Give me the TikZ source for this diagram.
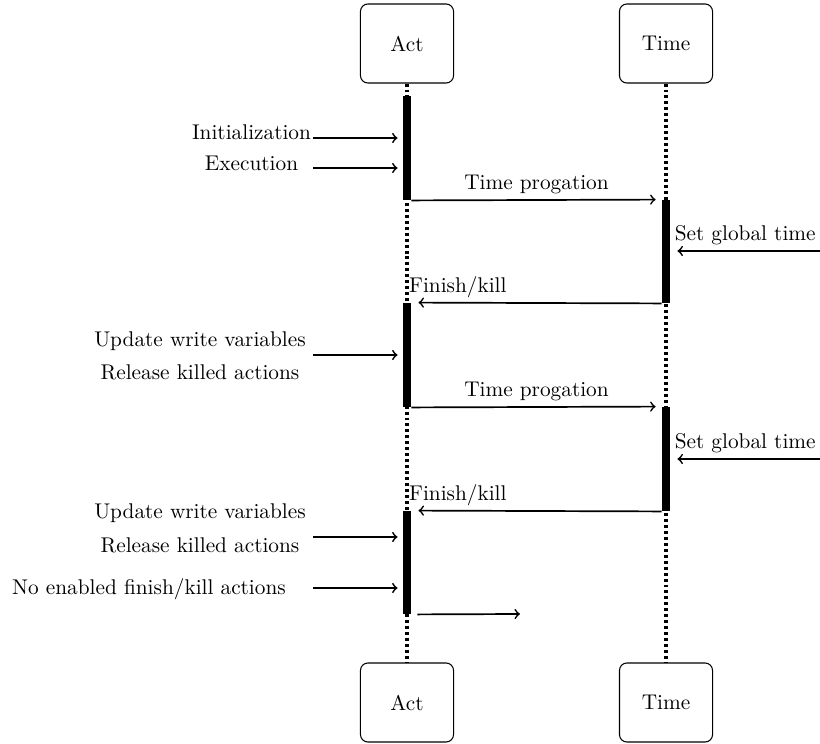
\documentclass[tikz,border=0pt]{standalone}
\usetikzlibrary{fit}
\begin{document}
\begin{tikzpicture}[x=0.4695pt,y=-0.4695pt,
  lifebox/.style={draw, rounded corners=3.5pt, line width=0.5pt,
    minimum width=43.7pt, minimum height=37.1pt},
  lifeline/.style={line width=1.7pt, dash pattern=on 1.4pt off 1.4pt},
  actbar/.style={fill=black, draw=none, inner sep=0pt},
  msg/.style={-to, line width=0.8pt},
  msglabel/.style={midway, anchor=base, yshift=4.7pt},
  note/.style={anchor=base}
]
\useasboundingbox (0,0) rectangle (820,744);

% participants
\node[lifebox] (actTop)  at (407,43.5)  {Act};
\node[lifebox] (timeTop) at (666,43.5)  {Time};
\node[lifebox] (actBot)  at (407,702.5) {Act};
\node[lifebox] (timeBot) at (666,702.5) {Time};

% lifelines
\draw[lifeline] (actTop.south) -- (actBot.north);
\draw[lifeline] (timeTop.south) -- (timeBot.north);

% activation bars
\node[actbar, fit={(403,96)(411,200)}]  (a1) {};
\node[actbar, fit={(662,200)(670,303)}] (t1) {};
\node[actbar, fit={(403,303)(411,407)}] (a2) {};
\node[actbar, fit={(662,407)(670,511)}] (t2) {};
\node[actbar, fit={(403,511)(411,614)}] (a3) {};

% incoming notes on the Act lifeline
\node[note] (n1) at (251.5,140) {Initialization};
\node[note] (n2) at (251.5,171) {Execution};
\node[note] (n3) at (200,346.5) {Update write variables};
\node[note] (n4) at (200,379)   {Release killed actions};
\node[note] (n5) at (200,518)   {Update write variables};
\node[note] (n6) at (200,552)   {Release killed actions};
\node[note] (n7) at (149,594)   {No enabled finish/kill actions};

\coordinate (s1) at (313,138);
\coordinate (s2) at (313,168);
\coordinate (s3) at (313,355);
\coordinate (s4) at (313,537);
\coordinate (s5) at (313,588);
\draw[msg, shorten >=2.35pt] (s1) -- (s1 -| a1.west);
\draw[msg, shorten >=2.35pt] (s2) -- (s2 -| a1.west);
\draw[msg, shorten >=2.35pt] (s3) -- (s3 -| a2.west);
\draw[msg, shorten >=2.35pt] (s4) -- (s4 -| a3.west);
\draw[msg, shorten >=2.35pt] (s5) -- (s5 -| a3.west);

% time progation / set global time / finish-kill rounds
\draw[msg, shorten >=2.8pt] (a1.south east) -- (t1.north west)
  node[msglabel] {Time progation};
\coordinate (g1) at (820,251);
\draw[msg, shorten >=3.3pt] (g1) -- (g1 -| t1.east)
  node[msglabel] {Set global time};
\draw[msg, shorten >=3.3pt] (t1.south west) -- (a2.north east);
\node[anchor=base west] (f1) at ([shift={(-1,-10)}]a2.north west) {Finish/kill};

\draw[msg, shorten >=2.8pt] (a2.south east) -- (t2.north west)
  node[msglabel] {Time progation};
\coordinate (g2) at (820,459);
\draw[msg, shorten >=3.3pt] (g2) -- (g2 -| t2.east)
  node[msglabel] {Set global time};
\draw[msg, shorten >=3.3pt] (t2.south west) -- (a3.north east);
\node[anchor=base west] (f2) at ([shift={(-1,-10)}]a3.north west) {Finish/kill};

% outgoing message at the end
\coordinate (e1) at (520,614);
\draw[msg, shorten <=2.8pt] (a3.south east) -- (e1);
\end{tikzpicture}
\end{document}
